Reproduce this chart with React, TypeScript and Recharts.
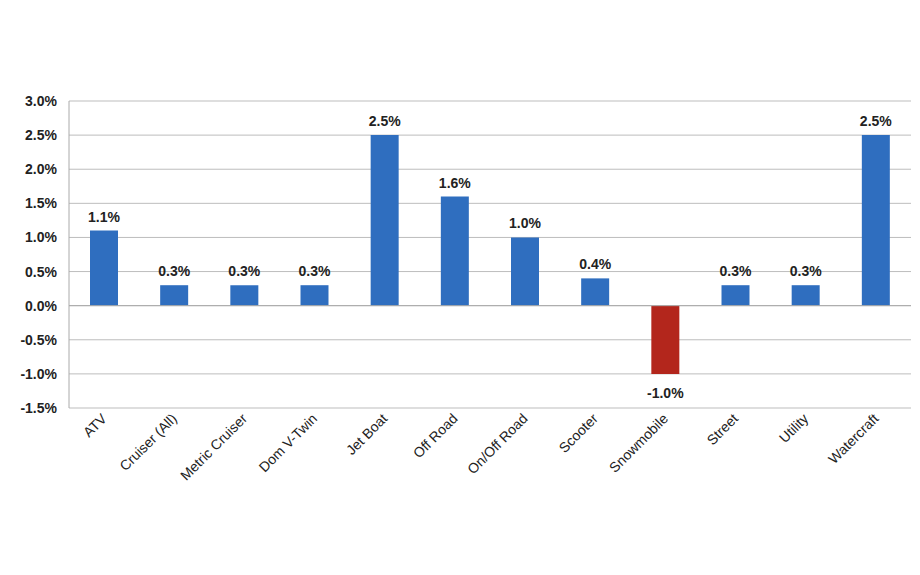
import React from "react";
import {
  BarChart,
  Bar,
  XAxis,
  YAxis,
  CartesianGrid,
  ReferenceLine,
  LabelList,
  Cell,
} from "recharts";

const categories = [
  "ATV",
  "Cruiser (All)",
  "Metric Cruiser",
  "Dom V-Twin",
  "Jet Boat",
  "Off Road",
  "On/Off Road",
  "Scooter",
  "Snowmobile",
  "Street",
  "Utility",
  "Watercraft",
];

const changes = [1.1, 0.3, 0.3, 0.3, 2.5, 1.6, 1.0, 0.4, -1.0, 0.3, 0.3, 2.5];

const yTicks = [-1.5, -1.0, -0.5, 0, 0.5, 1.0, 1.5, 2.0, 2.5, 3.0];

const data = categories.map((name, i) => ({ name, value: changes[i] }));

const font = "'Liberation Sans', Arial, sans-serif";
const fmt = (v: number) => `${v.toFixed(1)}%`;

const RotatedTick = (props: any) => {
  const { x, y, payload } = props;
  return (
    <g transform={`translate(${x},${y})`}>
      <text
        x={0}
        y={0}
        dy={5}
        textAnchor="end"
        transform="rotate(-45)"
        fill="#222"
        fontSize={14}
        fontFamily={font}
      >
        {payload.value}
      </text>
    </g>
  );
};

const ValueLabel = (props: any) => {
  const { x, y, width, height, value } = props;
  const neg = value < 0;
  const cx = x + width / 2;
  const top = Math.min(y, y + height);
  const bottom = Math.max(y, y + height);
  const ty = neg ? bottom + 24 : top - 9;
  return (
    <text
      x={cx}
      y={ty}
      textAnchor="middle"
      fill="#222"
      fontSize={14}
      fontWeight="bold"
      fontFamily={font}
    >
      {fmt(value)}
    </text>
  );
};

export default function App() {
  return (
    <div style={{ position: "absolute", left: 0, top: 0, background: "#fff" }}>
      <BarChart
        width={920}
        height={575}
        data={data}
        margin={{ top: 101, right: 9, bottom: 87, left: 9 }}
      >
        <CartesianGrid vertical={false} stroke="#bdbdbd" />
        <XAxis
          dataKey="name"
          interval={0}
          height={80}
          axisLine={false}
          tickLine={false}
          tick={<RotatedTick />}
        />
        <YAxis
          width={60}
          domain={[-1.5, 3]}
          ticks={yTicks}
          tickFormatter={fmt}
          axisLine={{ stroke: "#aaaaaa" }}
          tickLine={false}
          tick={{ fill: "#222", fontSize: 14, fontWeight: "bold", fontFamily: font }}
          tickMargin={6}
        />
        <ReferenceLine y={0} stroke="#aaaaaa" />
        <Bar dataKey="value" barSize={28} isAnimationActive={false}>
          {data.map((d) => (
            <Cell key={d.name} fill={d.value < 0 ? "#b3261c" : "#2f6ebf"} />
          ))}
          <LabelList dataKey="value" content={<ValueLabel />} />
        </Bar>
      </BarChart>
    </div>
  );
}
